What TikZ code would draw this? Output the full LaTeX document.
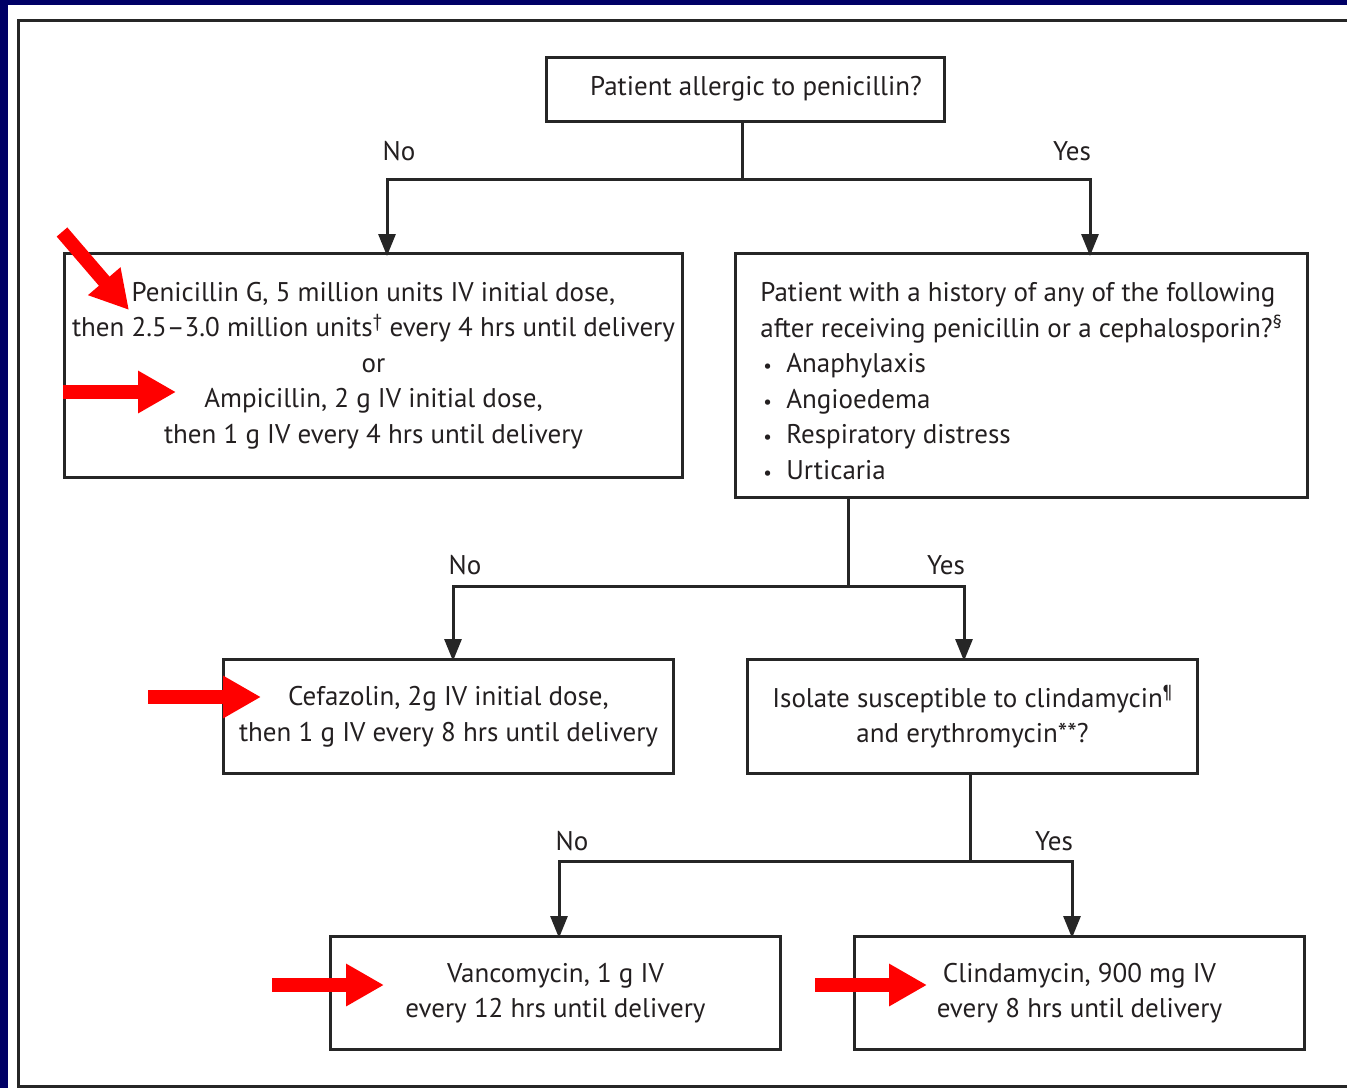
\documentclass[tikz,border=0pt]{standalone}
\usepackage{fontspec}
\setmainfont{PT Sans}
\usetikzlibrary{arrows.meta}
\definecolor{navy}{HTML}{000066}
\definecolor{ink}{HTML}{231F20}
\definecolor{linegray}{HTML}{262626}
\definecolor{pointred}{HTML}{FF0000}
\newcommand\boxfont{\fontsize{27}{35.5}\selectfont}
\newcommand\bul{\makebox[26pt][l]{\hspace{3pt}{\fontsize{19}{19}\selectfont\textbullet}}}
\begin{document}
\begin{tikzpicture}[x=1pt,y=-1pt,
  box/.style={draw=linegray, line width=3pt, fill=white, inner sep=0pt,
              font=\boxfont, text=ink, align=center},
  lbl/.style={font=\boxfont, text=ink, inner sep=0pt},
  link/.style={draw=linegray, line width=3pt},
  flow/.style={link, -{Triangle[length=22pt,width=17pt]}},
  pointer/.style={draw=pointred, line width=14pt, -{Triangle[length=38pt,width=40pt]}}]

% page, navy edge and black frame
\useasboundingbox (0,0) rectangle (1347,1088);
\fill[navy] (0,0) rectangle (1347,1088);
\fill[white] (8,5) rectangle (1347,1088);
\draw[linegray, line width=3pt] (1350,20.5) -- (18.5,20.5) -- (18.5,1086.5) -- (1350,1086.5);

% decision and treatment boxes
\node[box, minimum width=398, minimum height=64] (q1) at (745,89)
  {\hspace*{22pt}Patient allergic to penicillin?};
\node[box, minimum width=618, minimum height=224] (pen) at (373.5,365.5)
  {Penicillin G, 5 million units IV initial dose,\\
   then 2.5–3.0 million units\textsuperscript{†} every 4 hrs until delivery\\
   or\\
   Ampicillin, 2 g IV initial dose,\\
   then 1 g IV every 4 hrs until delivery};
\node[box, align=left, minimum width=572, minimum height=244] (hist) at (1021.5,375.5)
  {\rule{0pt}{30pt}Patient with a history of any of the following\\
   after receiving penicillin or a cephalosporin?\textsuperscript{§}\\
   \bul Anaphylaxis\\
   \bul Angioedema\\
   \bul Respiratory distress\\
   \bul Urticaria};
\node[box, minimum width=450, minimum height=114] (cef) at (448.5,716.5)
  {Cefazolin, 2g IV initial dose,\\ then 1 g IV every 8 hrs until delivery};
\node[box, minimum width=450, minimum height=114] (iso) at (972.5,716.5)
  {Isolate susceptible to clindamycin\textsuperscript{¶}\\ and erythromycin**?};
\node[box, minimum width=450, minimum height=113] (van) at (555.5,993)
  {Vancomycin, 1 g IV\\ every 12 hrs until delivery};
\node[box, minimum width=450, minimum height=113] (cli) at (1079.5,993)
  {Clindamycin, 900 mg IV\\ every 8 hrs until delivery};

% branch points and arrow columns
\coordinate (j1) at (742,179);
\coordinate (c1l) at (387,0);
\coordinate (c1r) at (1090,0);
\coordinate (j2) at (848,586);
\coordinate (c2l) at (453,0);
\coordinate (c2r) at (964,0);
\coordinate (j3) at (970,861);
\coordinate (c3l) at (559,0);
\coordinate (c3r) at (1072,0);

% connectors
\draw[link] (q1.south -| j1) -- (j1);
\draw[flow] (j1) -| ([yshift=-4pt]c1l |- pen.north);
\draw[flow] (j1) -| ([yshift=-4pt]c1r |- hist.north);
\draw[link] (hist.south -| j2) -- (j2);
\draw[flow] (j2) -| ([yshift=-3pt]c2l |- cef.north);
\draw[flow] (j2) -| ([yshift=-3pt]c2r |- iso.north);
\draw[link] (iso.south -| j3) -- (j3);
\draw[flow] (j3) -| ([yshift=-3pt]c3l |- van.north);
\draw[flow] (j3) -| ([yshift=-3pt]c3r |- cli.north);

% branch labels
\node[lbl] (no1) at (399,151) {No};
\node[lbl] (yes1) at (1072,151) {Yes};
\node[lbl] (no2) at (465,565) {No};
\node[lbl] (yes2) at (946,565) {Yes};
\node[lbl] (no3) at (572,841) {No};
\node[lbl] (yes3) at (1054,841) {Yes};

% red pointers
\coordinate (p1s) at (62,232);  \coordinate (p1e) at (129,310);
\coordinate (p2s) at (63,392);  \coordinate (p2e) at (176,392);
\coordinate (p3s) at (148,697); \coordinate (p3e) at (261,697);
\coordinate (p4s) at (272,985); \coordinate (p4e) at (384,985);
\coordinate (p5s) at (815,985); \coordinate (p5e) at (927,985);
\draw[pointer] (p1s) -- (p1e);
\draw[pointer] (p2s) -- (p2e);
\draw[pointer] (p3s) -- (p3e);
\draw[pointer] (p4s) -- (p4e);
\draw[pointer] (p5s) -- (p5e);
\end{tikzpicture}
\end{document}
